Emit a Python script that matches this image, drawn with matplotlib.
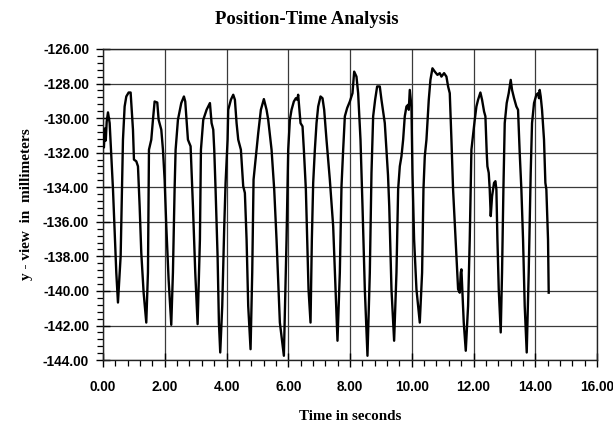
import matplotlib
matplotlib.use('AGG')
import matplotlib.pyplot as plt
from matplotlib.ticker import MultipleLocator, FormatStrFormatter

# values
time_s = [0.00, 0.03, 0.06, 0.09, 0.12, 0.162, 0.216, 0.324, 0.431, 0.485,
          0.572, 0.615, 0.647, 0.701, 0.755, 0.831, 0.895, 0.917, 0.971, 1.003,
          1.079, 1.133, 1.187, 1.240, 1.316, 1.402, 1.456, 1.478, 1.489, 1.564,
          1.618, 1.672, 1.758, 1.802, 1.888, 1.942, 1.996, 2.050, 2.125, 2.211,
          2.265, 2.319, 2.352, 2.427, 2.535, 2.621, 2.664, 2.697, 2.751, 2.837,
          2.913, 2.988, 3.064, 3.139, 3.172, 3.247, 3.355, 3.463, 3.517, 3.571,
          3.603, 3.646, 3.711, 3.754, 3.797, 3.862, 3.927, 3.970, 4.035, 4.056,
          4.142, 4.218, 4.272, 4.326, 4.380, 4.466, 4.541, 4.595, 4.650, 4.703,
          4.779, 4.833, 4.876, 4.973, 5.027, 5.113, 5.210, 5.297, 5.351, 5.459,
          5.545, 5.620, 5.728, 5.858, 5.944, 5.998, 6.052, 6.106, 6.181, 6.246,
          6.289, 6.321, 6.354, 6.397, 6.462, 6.505, 6.570, 6.613, 6.656, 6.721,
          6.764, 6.807, 6.861, 6.915, 6.969, 7.044, 7.109, 7.163, 7.238, 7.346,
          7.454, 7.530, 7.594, 7.670, 7.724, 7.778, 7.832, 7.907, 7.994, 8.080,
          8.134, 8.209, 8.263, 8.339, 8.404, 8.479, 8.565, 8.641, 8.695, 8.749,
          8.813, 8.878, 8.964, 9.018, 9.126, 9.18, 9.23, 9.27, 9.30, 9.342,
          9.428, 9.504, 9.558, 9.612, 9.666, 9.720, 9.773, 9.827, 9.881, 9.903,
          9.935, 9.968, 9.989, 10.022, 10.075, 10.151, 10.259, 10.334, 10.378, 10.421,
          10.475, 10.550, 10.604, 10.669, 10.744, 10.831, 10.906, 10.960, 11.046, 11.122,
          11.176, 11.230, 11.284, 11.337, 11.392, 11.446, 11.500, 11.553, 11.586, 11.607,
          11.640, 11.683, 11.748, 11.823, 11.877, 11.931, 12.039, 12.093, 12.147, 12.222,
          12.276, 12.341, 12.384, 12.427, 12.449, 12.492, 12.524, 12.557, 12.600, 12.664,
          12.708, 12.740, 12.773, 12.816, 12.880, 12.923, 12.967, 13.010, 13.074, 13.139,
          13.204, 13.247, 13.312, 13.387, 13.441, 13.495, 13.549, 13.603, 13.657, 13.722,
          13.786, 13.851, 13.894, 13.959, 14.035, 14.088, 14.121, 14.142, 14.175, 14.218,
          14.282, 14.326, 14.358, 14.412, 14.434]

y_view_mm = [-131.0, -131.7, -130.6, -131.3, -130.2, -129.67, -130.29, -134.13, -138.94, -140.67,
             -137.98, -134.13, -131.25, -129.33, -128.75, -128.52, -128.52, -129.13, -130.67, -132.40,
             -132.50, -132.79, -135.10, -137.79, -140.10, -141.83, -138.94, -134.13, -131.83, -131.25,
             -130.10, -129.04, -129.10, -130.10, -130.67, -131.83, -133.56, -136.25, -139.33, -141.96,
             -138.94, -134.13, -131.83, -130.10, -129.13, -128.75, -129.04, -129.90, -131.25, -131.63,
             -135.10, -138.94, -141.92, -137.02, -131.83, -130.10, -129.52, -129.13, -130.29, -130.67,
             -131.83, -134.13, -137.98, -141.83, -143.56, -140.87, -136.25, -133.75, -131.25, -129.52,
             -128.94, -128.65, -128.94, -130.29, -131.25, -131.83, -133.94, -134.33, -137.02, -140.87,
             -143.37, -138.94, -133.56, -131.83, -130.87, -129.52, -128.90, -129.52, -130.10, -131.83,
             -134.13, -137.02, -141.83, -143.75, -137.02, -131.83, -130.10, -129.52, -129.04, -128.85,
             -128.94, -128.65, -129.33, -130.29, -130.48, -131.83, -134.13, -137.02, -139.90, -141.83,
             -137.02, -133.75, -131.83, -130.29, -129.33, -128.75, -128.85, -129.52, -131.25, -133.56,
             -136.25, -139.90, -142.88, -138.94, -133.94, -131.83, -129.90, -129.42, -129.04, -128.56,
             -127.31, -127.60, -128.56, -131.25, -135.10, -139.90, -143.75, -138.94, -133.17, -129.90,
             -128.94, -128.17, -128.17, -128.94, -130.29, -131.9, -133.3, -135.1, -137.02, -139.90,
             -142.88, -138.94, -134.13, -132.79, -132.21, -131.25, -129.90, -129.33, -129.23, -129.52,
             -128.37, -128.94, -129.33, -133.17, -137.02, -139.90, -141.83, -138.94, -134.13, -132.21,
             -131.25, -128.94, -127.79, -127.12, -127.31, -127.50, -127.40, -127.60, -127.40, -127.60,
             -128.17, -128.56, -131.25, -134.13, -136.06, -137.98, -139.90, -140.10, -138.94, -138.75,
             -140.10, -141.83, -143.46, -140.87, -137.02, -131.83, -130.10, -129.33, -128.94, -128.52,
             -128.94, -129.62, -129.90, -132.02, -132.79, -133.17, -134.13, -135.67, -134.52, -133.75,
             -133.65, -134.13, -137.02, -139.90, -142.40, -138.94, -134.13, -130.29, -129.13, -128.56,
             -127.79, -128.37, -128.85, -129.33, -129.52, -132.02, -134.13, -137.02, -140.87, -143.56,
             -138.94, -133.17, -130.29, -129.13, -128.65, -128.56, -128.85, -128.37, -128.75, -129.52,
             -131.25, -133.75, -134.13, -137.02, -140.10]


def main():
    fig = plt.figure(figsize=(6.13, 4.37), dpi=100)
    ax = fig.add_axes([0.168, 0.176, 0.806, 0.712])

    ax.plot(time_s, y_view_mm, color='black', linewidth=1.7, zorder=3)

    ax.set_xlim(0, 16)
    ax.set_ylim(-144, -126)
    ax.xaxis.set_major_locator(MultipleLocator(2))
    ax.xaxis.set_minor_locator(MultipleLocator(0.4))
    ax.yaxis.set_major_locator(MultipleLocator(2))
    ax.yaxis.set_minor_locator(MultipleLocator(0.4))
    ax.xaxis.set_major_formatter(FormatStrFormatter('%.2f'))
    ax.yaxis.set_major_formatter(FormatStrFormatter('%.2f'))

    ax.grid(True, which='major', color='#3a3a3a', linewidth=0.9, zorder=1)
    for side in ['left', 'right', 'top', 'bottom']:
        ax.spines[side].set_linewidth(1.0)
        ax.spines[side].set_color('#222222')

    ax.tick_params(which='major', direction='inout', length=10, width=1.0)
    ax.tick_params(axis='y', which='major', pad=5)
    ax.tick_params(axis='x', which='major', pad=9.5)
    ax.tick_params(which='minor', direction='out', length=4, width=0.9)
    for lbl in ax.get_xticklabels() + ax.get_yticklabels():
        lbl.set_fontfamily('Liberation Sans')
        lbl.set_fontweight('bold')
        lbl.set_fontsize(9.8)

    fig.text(0.5, 0.955, 'Position-Time Analysis', ha='center', va='center',
             family='Liberation Serif', weight='bold', fontsize=13.5)
    fig.text(0.571, 0.047, 'Time in seconds', ha='center', va='center',
             family='Liberation Serif', weight='bold', fontsize=10.8)
    fig.text(0.043, 0.532, 'y - view  in  millimeters', ha='center', va='center',
             rotation=90, family='Liberation Serif', weight='bold', fontsize=11)

    fig.savefig('out.png', dpi=100, facecolor='white')


if "__main__" in __name__:
    main()
